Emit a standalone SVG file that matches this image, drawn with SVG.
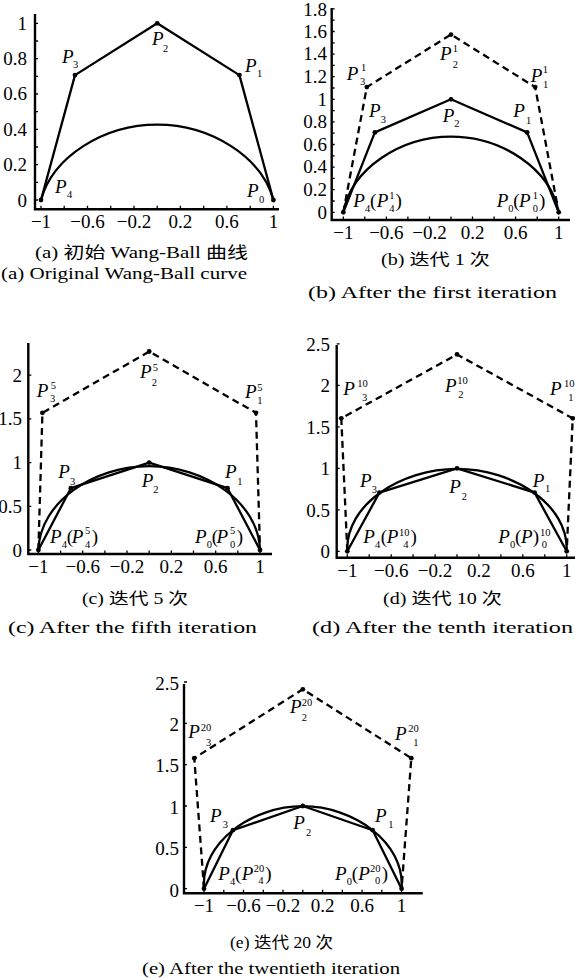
<svg xmlns="http://www.w3.org/2000/svg" width="575" height="978" viewBox="0 0 575 978">
<style>
.ax{fill:none;stroke:#000;stroke-width:2.4}
.tc{fill:none;stroke:#000;stroke-width:1.3}
.cv{fill:none;stroke:#000;stroke-width:2.3}
.pl{fill:none;stroke:#000;stroke-width:2.3;stroke-linejoin:round}
.dl{fill:none;stroke:#000;stroke-width:2.3;stroke-dasharray:7 4.5}
.tx{font-family:"Liberation Serif",serif;font-size:19px;fill:#000;text-anchor:middle}
.ty{font-family:"Liberation Serif",serif;font-size:19px;fill:#000;text-anchor:end}
.pi{font-family:"Liberation Serif",serif;font-style:italic;font-size:19px;fill:#000}
.pr{font-style:normal}
.sb{font-style:normal;font-size:10.5px}
.cap{font-family:"Liberation Serif","Noto Sans CJK SC",serif;font-size:16px;fill:#000}
</style>
<defs>
<circle id="dot" r="2.4" fill="#000"/>
</defs>

<!-- Panel (a) -->
<g id="panel-a">
<g id="a-curve"><path class="cv" d="M273.4 200C261.47 156.2 210.21 124.59 157.2 124.59C104.19 124.59 52.93 156.2 41 200"/></g>
<g id="a-polygon"><path class="pl" d="M41 200L75 75.1L157.2 23.3L239.4 75.1L273.4 200"/></g>
<g id="a-points">
<use href="#dot" x="41" y="200"/><use href="#dot" x="75" y="75.1"/><use href="#dot" x="157.2" y="23.3"/><use href="#dot" x="239.4" y="75.1"/><use href="#dot" x="273.4" y="200"/>
</g>
<g id="a-labels">
<text class="pi" x="62" y="63">P<tspan class="sb" x="73" y="68">3</tspan></text>
<text class="pi" x="152" y="45">P<tspan class="sb" x="163" y="52">2</tspan></text>
<text class="pi" x="245" y="72">P<tspan class="sb" x="257" y="77">1</tspan></text>
<text class="pi" x="55" y="193">P<tspan class="sb" x="67" y="198">4</tspan></text>
<text class="pi" x="247" y="197">P<tspan class="sb" x="259" y="203">0</tspan></text>
</g>
<g id="a-axes">
<path class="ax" d="M35 14V209.3H279"/>
<path class="tc" d="M35 200h3M35 182.3h3M35 164.7h3M35 147h3M35 129.3h3M35 111.7h3M35 94h3M35 76.3h3M35 58.6h3M35 41h3M35 23.3h3"/>
<path class="tc" d="M41 209.3v-3.5M64.2 209.3v-3.5M87.5 209.3v-3.5M110.7 209.3v-3.5M134 209.3v-3.5M157.2 209.3v-3.5M180.4 209.3v-3.5M203.7 209.3v-3.5M226.9 209.3v-3.5M250.2 209.3v-3.5M273.4 209.3v-3.5"/>
<text class="ty" x="27" y="206.5">0</text><text class="ty" x="27" y="171">0.2</text><text class="ty" x="27" y="135.6">0.4</text><text class="ty" x="27" y="100.3">0.6</text><text class="ty" x="27" y="65">0.8</text><text class="ty" x="27" y="29.6">1</text>
<text class="tx" x="41" y="227.5">−1</text><text class="tx" x="87.5" y="227.5">−0.6</text><text class="tx" x="134" y="227.5">−0.2</text><text class="tx" x="180.4" y="227.5">0.2</text><text class="tx" x="226.9" y="227.5">0.6</text><text class="tx" x="273.4" y="227.5">1</text>
</g>
<text class="cap" x="35" y="258" textLength="213" lengthAdjust="spacingAndGlyphs">(a) 初始 Wang-Ball 曲线</text>
<text class="cap" x="1" y="279" textLength="246" lengthAdjust="spacingAndGlyphs">(a) Original Wang-Ball curve</text>
</g>

<!-- Panel (b) -->
<g id="panel-b">
<g id="b-curve"><path class="cv" d="M558.7 212.3C550.45 168.38 501.34 136.56 451 136.56C400.66 136.56 351.55 168.38 343.3 212.3"/></g>
<g id="b-polygon"><path class="pl" d="M343.3 212.3L374.85 132.4L451 99.3L527.15 132.4L558.7 212.3"/></g>
<g id="b-dashed"><path class="dl" d="M343.3 212.3L366.82 87.11L451 34.53L535.18 87.11L558.7 212.3"/></g>
<g id="b-points">
<use href="#dot" x="343.3" y="212.3"/><use href="#dot" x="374.85" y="132.4"/><use href="#dot" x="451" y="99.3"/><use href="#dot" x="527.15" y="132.4"/><use href="#dot" x="558.7" y="212.3"/>
<use href="#dot" x="366.82" y="87.11"/><use href="#dot" x="451" y="34.53"/><use href="#dot" x="535.18" y="87.11"/>
</g>
<g id="b-labels">
<text class="pi" x="346.7" y="80">P<tspan class="sb" x="361" y="70.5">1</tspan><tspan class="sb" x="360" y="85">3</tspan></text>
<text class="pi" x="440" y="60">P<tspan class="sb" x="452.7" y="51.5">1</tspan><tspan class="sb" x="452.7" y="67.7">2</tspan></text>
<text class="pi" x="530.7" y="81.7">P<tspan class="sb" x="542.7" y="73">1</tspan><tspan class="sb" x="543" y="88">1</tspan></text>
<text class="pi" x="369" y="116.7">P<tspan class="sb" x="380.7" y="122.7">3</tspan></text>
<text class="pi" x="442.7" y="121.7">P<tspan class="sb" x="454.3" y="127.3">2</tspan></text>
<text class="pi" x="513.3" y="117.3">P<tspan class="sb" x="526" y="124">1</tspan></text>
<text class="pi" x="353.3" y="206.7">P<tspan class="sb" x="365" y="211.7">4</tspan><tspan class="pr" x="370" y="206.7">(</tspan><tspan x="376.7" y="206.7">P</tspan><tspan class="sb" x="389.3" y="199">1</tspan><tspan class="sb" x="389.3" y="211.7">4</tspan><tspan class="pr" x="395.5" y="206.7">)</tspan></text>
<text class="pi" x="496.7" y="206.7">P<tspan class="sb" x="508.3" y="211.7">0</tspan><tspan class="pr" x="513.3" y="206.7">(</tspan><tspan x="519" y="206.7">P</tspan><tspan class="sb" x="532.7" y="199">1</tspan><tspan class="sb" x="532.7" y="211.7">0</tspan><tspan class="pr" x="539" y="206.7">)</tspan></text>
</g>
<g id="b-axes">
<path class="ax" d="M331.7 8V220H570"/>
<path class="tc" d="M331.7 212.3h3M331.7 201h3M331.7 189.7h3M331.7 178.4h3M331.7 167.1h3M331.7 155.8h3M331.7 144.5h3M331.7 133.2h3M331.7 121.9h3M331.7 110.6h3M331.7 99.3h3M331.7 88h3M331.7 76.7h3M331.7 65.4h3M331.7 54.1h3M331.7 42.8h3M331.7 31.5h3M331.7 20.2h3M331.7 8.9h3"/>
<path class="tc" d="M343.3 220v-3.5M364.8 220v-3.5M386.4 220v-3.5M407.9 220v-3.5M429.5 220v-3.5M451 220v-3.5M472.5 220v-3.5M494.1 220v-3.5M515.6 220v-3.5M537.2 220v-3.5M558.7 220v-3.5"/>
<text class="ty" x="327" y="218.6">0</text><text class="ty" x="327" y="196">0.2</text><text class="ty" x="327" y="173.4">0.4</text><text class="ty" x="327" y="150.8">0.6</text><text class="ty" x="327" y="128.2">0.8</text><text class="ty" x="327" y="105.6">1</text><text class="ty" x="327" y="83">1.2</text><text class="ty" x="327" y="60.4">1.4</text><text class="ty" x="327" y="37.8">1.6</text><text class="ty" x="327" y="16.3">1.8</text>
<text class="tx" x="343.3" y="238.5">−1</text><text class="tx" x="386.4" y="238.5">−0.6</text><text class="tx" x="429.5" y="238.5">−0.2</text><text class="tx" x="472.5" y="238.5">0.2</text><text class="tx" x="515.6" y="238.5">0.6</text><text class="tx" x="558.7" y="238.5">1</text>
</g>
<text class="cap" x="381" y="265" textLength="109" lengthAdjust="spacingAndGlyphs">(b) 迭代 1 次</text>
<text class="cap" x="308" y="298" textLength="249" lengthAdjust="spacingAndGlyphs">(b) After the first iteration</text>
</g>

<!-- Panel (c) -->
<g id="panel-c">
<g id="c-curve"><path class="cv" d="M260 550C258.59 501.72 204.01 466.09 149.2 466.09C94.39 466.09 39.81 501.72 38.4 550"/></g>
<g id="c-polygon"><path class="pl" d="M38.4 550L70.85 488.2L149.2 462.6L227.55 488.2L260 550"/></g>
<g id="c-dashed"><path class="dl" d="M38.4 550L42.41 412.84L149.2 351.52L255.99 412.84L260 550"/></g>
<g id="c-points">
<use href="#dot" x="38.4" y="550"/><use href="#dot" x="70.85" y="488.2"/><use href="#dot" x="149.2" y="462.6"/><use href="#dot" x="227.55" y="488.2"/><use href="#dot" x="260" y="550"/>
<use href="#dot" x="42.41" y="412.84"/><use href="#dot" x="149.2" y="351.52"/><use href="#dot" x="255.99" y="412.84"/>
</g>
<g id="c-labels">
<text class="pi" x="36.7" y="396.7">P<tspan class="sb" x="50.7" y="388.5">5</tspan><tspan class="sb" x="50" y="402">3</tspan></text>
<text class="pi" x="140" y="378.3">P<tspan class="sb" x="152.7" y="370.5">5</tspan><tspan class="sb" x="151.7" y="386">2</tspan></text>
<text class="pi" x="245" y="398.3">P<tspan class="sb" x="257.3" y="390.5">5</tspan><tspan class="sb" x="257.3" y="404.3">1</tspan></text>
<text class="pi" x="58.3" y="478.3">P<tspan class="sb" x="70" y="485">3</tspan></text>
<text class="pi" x="141.7" y="486.7">P<tspan class="sb" x="153.3" y="493.3">2</tspan></text>
<text class="pi" x="225" y="478.3">P<tspan class="sb" x="237.3" y="485">1</tspan></text>
<text class="pi" x="50" y="543.3">P<tspan class="sb" x="61.7" y="548">4</tspan><tspan class="pr" x="66.7" y="543.3">(</tspan><tspan x="71.7" y="543.3">P</tspan><tspan class="sb" x="85" y="534">5</tspan><tspan class="sb" x="85" y="547.7">4</tspan><tspan class="pr" x="91.7" y="543.3">)</tspan></text>
<text class="pi" x="195" y="543.3">P<tspan class="sb" x="206.7" y="548">0</tspan><tspan class="pr" x="211.7" y="543.3">(</tspan><tspan x="216.5" y="543.3">P</tspan><tspan class="sb" x="230" y="534">5</tspan><tspan class="sb" x="230" y="547.7">0</tspan><tspan class="pr" x="236.7" y="543.3">)</tspan></text>
</g>
<g id="c-axes">
<path class="ax" d="M28.3 343V554H272"/>
<path class="tc" d="M28.3 550h3M28.3 506.3h3M28.3 462.6h3M28.3 418.9h3M28.3 375.2h3"/>
<path class="tc" d="M38.4 554v-3.5M60.6 554v-3.5M82.7 554v-3.5M104.9 554v-3.5M127 554v-3.5M149.2 554v-3.5M171.4 554v-3.5M193.5 554v-3.5M215.7 554v-3.5M237.8 554v-3.5M260 554v-3.5"/>
<text class="ty" x="22" y="556.5">0</text><text class="ty" x="22" y="512.8">0.5</text><text class="ty" x="22" y="469.1">1</text><text class="ty" x="22" y="425.4">1.5</text><text class="ty" x="22" y="381.7">2</text>
<text class="tx" x="38.4" y="572.5">−1</text><text class="tx" x="82.7" y="572.5">−0.6</text><text class="tx" x="127" y="572.5">−0.2</text><text class="tx" x="171.4" y="572.5">0.2</text><text class="tx" x="215.7" y="572.5">0.6</text><text class="tx" x="260" y="572.5">1</text>
</g>
<text class="cap" x="82" y="604" textLength="106" lengthAdjust="spacingAndGlyphs">(c) 迭代 5 次</text>
<text class="cap" x="8" y="633" textLength="249" lengthAdjust="spacingAndGlyphs">(c) After the fifth iteration</text>
</g>

<!-- Panel (d) -->
<g id="panel-d">
<g id="d-curve"><path class="cv" d="M566.7 551.3C568.82 504.3 512.73 468.84 457 468.84C401.27 468.84 345.18 504.3 347.3 551.3"/></g>
<g id="d-polygon"><path class="pl" d="M347.3 551.3L379.43 492.61L457 468.3L534.57 492.61L566.7 551.3"/></g>
<g id="d-dashed"><path class="dl" d="M347.3 551.3L341.29 418.3L457 354.45L572.71 418.3L566.7 551.3"/></g>
<g id="d-points">
<use href="#dot" x="347.3" y="551.3"/><use href="#dot" x="379.43" y="492.61"/><use href="#dot" x="457" y="468.3"/><use href="#dot" x="534.57" y="492.61"/><use href="#dot" x="566.7" y="551.3"/>
<use href="#dot" x="341.29" y="418.3"/><use href="#dot" x="457" y="354.45"/><use href="#dot" x="572.71" y="418.3"/>
</g>
<g id="d-labels">
<text class="pi" x="343.3" y="395">P<tspan class="sb" x="357.3" y="387.3">10</tspan><tspan class="sb" x="362" y="401">3</tspan></text>
<text class="pi" x="445" y="391.7">P<tspan class="sb" x="457.3" y="384">10</tspan><tspan class="sb" x="458.3" y="397.7">2</tspan></text>
<text class="pi" x="550" y="395">P<tspan class="sb" x="564" y="387.3">10</tspan><tspan class="sb" x="568.3" y="401">1</tspan></text>
<text class="pi" x="360" y="486.7">P<tspan class="sb" x="371.7" y="493.3">3</tspan></text>
<text class="pi" x="449.3" y="493.3">P<tspan class="sb" x="461.7" y="500">2</tspan></text>
<text class="pi" x="532.7" y="486.7">P<tspan class="sb" x="545" y="491.7">1</tspan></text>
<text class="pi" x="363.3" y="543.3">P<tspan class="sb" x="375" y="548">4</tspan><tspan class="pr" x="380.7" y="543.3">(</tspan><tspan x="386.7" y="543.3">P</tspan><tspan class="sb" x="399" y="535.5">10</tspan><tspan class="sb" x="403.3" y="547.7">4</tspan><tspan class="pr" x="410.5" y="543.3">)</tspan></text>
<text class="pi" x="498.3" y="543.3">P<tspan class="sb" x="510" y="548">0</tspan><tspan class="pr" x="515" y="543.3">(</tspan><tspan x="521" y="543.3">P</tspan><tspan class="pr" x="532.7" y="543.3">)</tspan><tspan class="sb" x="540" y="535.5">10</tspan><tspan class="sb" x="541.7" y="547.7">0</tspan></text>
</g>
<g id="d-axes">
<path class="ax" d="M336.7 345V557.7H575"/>
<path class="tc" d="M336.7 551.3h3M336.7 509.8h3M336.7 468.3h3M336.7 426.8h3M336.7 385.3h3M336.7 343.8h3"/>
<path class="tc" d="M347.3 557.7v-3.5M369.2 557.7v-3.5M391.2 557.7v-3.5M413.1 557.7v-3.5M435.1 557.7v-3.5M457 557.7v-3.5M478.9 557.7v-3.5M500.9 557.7v-3.5M522.8 557.7v-3.5M544.8 557.7v-3.5M566.7 557.7v-3.5"/>
<text class="ty" x="330" y="558">0</text><text class="ty" x="330" y="516.5">0.5</text><text class="ty" x="330" y="475">1</text><text class="ty" x="330" y="433.5">1.5</text><text class="ty" x="330" y="392">2</text><text class="ty" x="330" y="350.5">2.5</text>
<text class="tx" x="347.3" y="576.5">−1</text><text class="tx" x="391.2" y="576.5">−0.6</text><text class="tx" x="435.1" y="576.5">−0.2</text><text class="tx" x="478.9" y="576.5">0.2</text><text class="tx" x="522.8" y="576.5">0.6</text><text class="tx" x="566.7" y="576.5">1</text>
</g>
<text class="cap" x="383" y="604" textLength="119" lengthAdjust="spacingAndGlyphs">(d) 迭代 10 次</text>
<text class="cap" x="312" y="633" textLength="261" lengthAdjust="spacingAndGlyphs">(d) After the tenth iteration</text>
</g>

<!-- Panel (e) -->
<g id="panel-e">
<g id="e-curve"><path class="cv" d="M401.6 888.7C405.05 842.31 353.61 806.21 302.8 806.21C251.99 806.21 200.55 842.31 204 888.7"/></g>
<g id="e-polygon"><path class="pl" d="M204 888.7L232.94 830.22L302.8 806L372.66 830.22L401.6 888.7"/></g>
<g id="e-dashed"><path class="dl" d="M204 888.7L194.28 758.14L302.8 689.29L411.32 758.14L401.6 888.7"/></g>
<g id="e-points">
<use href="#dot" x="204" y="888.7"/><use href="#dot" x="232.94" y="830.22"/><use href="#dot" x="302.8" y="806"/><use href="#dot" x="372.66" y="830.22"/><use href="#dot" x="401.6" y="888.7"/>
<use href="#dot" x="194.28" y="758.14"/><use href="#dot" x="302.8" y="689.29"/><use href="#dot" x="411.32" y="758.14"/>
</g>
<g id="e-labels">
<text class="pi" x="188.3" y="738.3">P<tspan class="sb" x="200.7" y="730.7">20</tspan><tspan class="sb" x="206" y="746">3</tspan></text>
<text class="pi" x="290" y="713.3">P<tspan class="sb" x="301.7" y="705.7">20</tspan><tspan class="sb" x="301.7" y="721">2</tspan></text>
<text class="pi" x="395" y="740">P<tspan class="sb" x="408.3" y="732">20</tspan><tspan class="sb" x="413.3" y="746">1</tspan></text>
<text class="pi" x="210" y="821.7">P<tspan class="sb" x="222.7" y="828.3">3</tspan></text>
<text class="pi" x="293.3" y="829.3">P<tspan class="sb" x="306" y="836">2</tspan></text>
<text class="pi" x="375" y="821.7">P<tspan class="sb" x="388.3" y="828.3">1</tspan></text>
<text class="pi" x="218.3" y="880">P<tspan class="sb" x="230" y="885">4</tspan><tspan class="pr" x="235" y="880">(</tspan><tspan x="241.7" y="880">P</tspan><tspan class="sb" x="253.8" y="872.3">20</tspan><tspan class="sb" x="258.3" y="884.3">4</tspan><tspan class="pr" x="265.3" y="880">)</tspan></text>
<text class="pi" x="335" y="880">P<tspan class="sb" x="346.7" y="885">0</tspan><tspan class="pr" x="351.7" y="880">(</tspan><tspan x="358.3" y="880">P</tspan><tspan class="sb" x="370" y="872.3">20</tspan><tspan class="sb" x="375" y="884.3">0</tspan><tspan class="pr" x="381.7" y="880">)</tspan></text>
</g>
<g id="e-axes">
<path class="ax" d="M184 684V893.3H422.7"/>
<path class="tc" d="M184 888.7h3M184 847.4h3M184 806h3M184 764.7h3M184 723.3h3M184 682h3"/>
<path class="tc" d="M204 893.3v-3.5M223.8 893.3v-3.5M243.5 893.3v-3.5M263.3 893.3v-3.5M283 893.3v-3.5M302.8 893.3v-3.5M322.6 893.3v-3.5M342.3 893.3v-3.5M362.1 893.3v-3.5M381.8 893.3v-3.5M401.6 893.3v-3.5"/>
<text class="ty" x="179" y="896.5">0</text><text class="ty" x="179" y="855">0.5</text><text class="ty" x="179" y="813.5">1</text><text class="ty" x="179" y="772">1.5</text><text class="ty" x="179" y="730.5">2</text><text class="ty" x="179" y="689.5">2.5</text>
<text class="tx" x="204" y="911.5">−1</text><text class="tx" x="243.5" y="911.5">−0.6</text><text class="tx" x="283" y="911.5">−0.2</text><text class="tx" x="322.6" y="911.5">0.2</text><text class="tx" x="362.1" y="911.5">0.6</text><text class="tx" x="401.6" y="911.5">1</text>
</g>
<text class="cap" x="230" y="948" textLength="103" lengthAdjust="spacingAndGlyphs">(e) 迭代 20 次</text>
<text class="cap" x="142" y="974" textLength="258" lengthAdjust="spacingAndGlyphs">(e) After the twentieth iteration</text>
</g>
</svg>
